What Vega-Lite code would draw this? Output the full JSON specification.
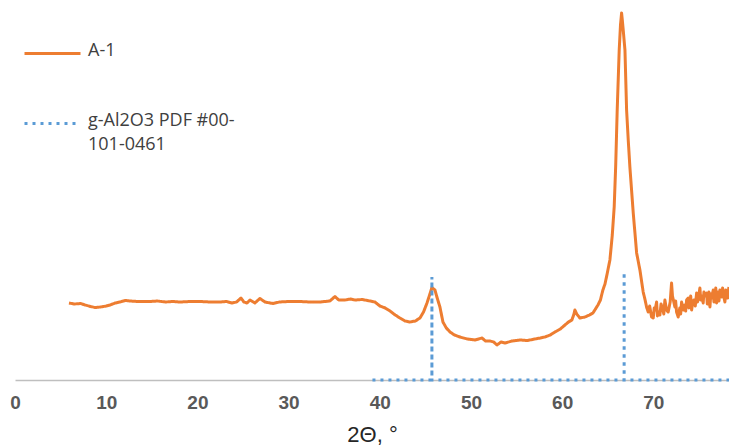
{
  "$schema": "https://vega.github.io/schema/vega-lite/v6.json",
  "width": 714,
  "height": 380,
  "autosize": {"type": "none"},
  "padding": {"left": 15, "top": 0, "right": 0, "bottom": 67},
  "background": "white",
  "config": {"view": {"stroke": null}},
  "datasets": {
    "xrd": [
      {"t": 5.92, "I": 77}, {"t": 6.5, "I": 76}, {"t": 7.2, "I": 76.5}, {"t": 7.68, "I": 75}, {"t": 8.3, "I": 73.5},
      {"t": 8.77, "I": 72.5}, {"t": 9.4, "I": 73}, {"t": 10.0, "I": 74}, {"t": 10.42, "I": 75}, {"t": 11.0, "I": 77},
      {"t": 11.51, "I": 78}, {"t": 12.1, "I": 79.5}, {"t": 12.61, "I": 79}, {"t": 13.5, "I": 78.5}, {"t": 14.8, "I": 78.5},
      {"t": 15.6, "I": 79}, {"t": 16.5, "I": 78}, {"t": 17.3, "I": 78.5}, {"t": 18.09, "I": 78}, {"t": 19.2, "I": 78.5},
      {"t": 20.29, "I": 78.5}, {"t": 21.4, "I": 78}, {"t": 22.48, "I": 78}, {"t": 23.2, "I": 78.5}, {"t": 23.79, "I": 77},
      {"t": 24.3, "I": 78}, {"t": 24.78, "I": 82}, {"t": 25.1, "I": 78}, {"t": 25.44, "I": 77}, {"t": 25.77, "I": 80},
      {"t": 26.3, "I": 77}, {"t": 26.86, "I": 81.5}, {"t": 27.41, "I": 78}, {"t": 28.29, "I": 76.5}, {"t": 29.0, "I": 78},
      {"t": 30.0, "I": 78.5}, {"t": 31.25, "I": 78.5}, {"t": 32.3, "I": 78}, {"t": 33.44, "I": 78}, {"t": 34.54, "I": 79},
      {"t": 35.09, "I": 83.5}, {"t": 35.5, "I": 80}, {"t": 36.18, "I": 80}, {"t": 36.8, "I": 81}, {"t": 37.28, "I": 80},
      {"t": 38.1, "I": 80.5}, {"t": 38.93, "I": 79}, {"t": 39.47, "I": 78}, {"t": 40.02, "I": 74}, {"t": 40.6, "I": 72},
      {"t": 41.12, "I": 69}, {"t": 41.7, "I": 65}, {"t": 42.21, "I": 62}, {"t": 42.76, "I": 59}, {"t": 43.31, "I": 58},
      {"t": 43.9, "I": 59}, {"t": 44.41, "I": 62}, {"t": 44.8, "I": 68}, {"t": 45.18, "I": 77}, {"t": 45.5, "I": 86},
      {"t": 45.72, "I": 92.5}, {"t": 46.05, "I": 90}, {"t": 46.3, "I": 82}, {"t": 46.6, "I": 73}, {"t": 46.93, "I": 58},
      {"t": 47.3, "I": 52}, {"t": 47.7, "I": 48}, {"t": 48.2, "I": 45}, {"t": 48.79, "I": 43}, {"t": 49.6, "I": 41},
      {"t": 50.44, "I": 40}, {"t": 51.21, "I": 42}, {"t": 51.6, "I": 39}, {"t": 52.08, "I": 39}, {"t": 52.5, "I": 38},
      {"t": 52.85, "I": 35}, {"t": 53.3, "I": 38}, {"t": 53.73, "I": 37}, {"t": 54.5, "I": 39}, {"t": 55.37, "I": 40},
      {"t": 56.2, "I": 39.5}, {"t": 57.02, "I": 41}, {"t": 57.6, "I": 42}, {"t": 58.11, "I": 43}, {"t": 58.7, "I": 45},
      {"t": 59.21, "I": 48}, {"t": 59.8, "I": 51}, {"t": 60.31, "I": 55}, {"t": 60.7, "I": 58}, {"t": 61.07, "I": 60},
      {"t": 61.3, "I": 66}, {"t": 61.4, "I": 70}, {"t": 61.6, "I": 66}, {"t": 61.95, "I": 62}, {"t": 62.5, "I": 63},
      {"t": 63.0, "I": 65}, {"t": 63.38, "I": 67}, {"t": 63.93, "I": 75}, {"t": 64.2, "I": 80}, {"t": 64.47, "I": 90},
      {"t": 64.7, "I": 96}, {"t": 64.91, "I": 105}, {"t": 65.24, "I": 120}, {"t": 65.5, "I": 145}, {"t": 65.71, "I": 173},
      {"t": 65.87, "I": 213}, {"t": 66.04, "I": 270}, {"t": 66.26, "I": 330}, {"t": 66.4, "I": 355}, {"t": 66.52, "I": 367},
      {"t": 66.6, "I": 360}, {"t": 66.7, "I": 350}, {"t": 66.89, "I": 330}, {"t": 67.07, "I": 270}, {"t": 67.25, "I": 240},
      {"t": 67.43, "I": 213}, {"t": 67.8, "I": 167}, {"t": 68.17, "I": 127}, {"t": 68.53, "I": 110}, {"t": 68.89, "I": 88},
      {"t": 69.1, "I": 80}, {"t": 69.26, "I": 73}, {"t": 69.44, "I": 68}, {"t": 69.6, "I": 74}, {"t": 69.81, "I": 63},
      {"t": 69.99, "I": 62}, {"t": 70.1, "I": 72}, {"t": 70.2, "I": 70}, {"t": 70.36, "I": 78}, {"t": 70.45, "I": 64}, {"t": 70.55, "I": 68}, {"t": 70.72, "I": 65},
      {"t": 70.85, "I": 76}, {"t": 71.0, "I": 72}, {"t": 71.15, "I": 66}, {"t": 71.27, "I": 80}, {"t": 71.45, "I": 70}, {"t": 71.63, "I": 68}, {"t": 71.85, "I": 78},
      {"t": 72.0, "I": 97}, {"t": 72.1, "I": 84}, {"t": 72.2, "I": 80}, {"t": 72.37, "I": 73}, {"t": 72.45, "I": 79}, {"t": 72.55, "I": 68}, {"t": 72.73, "I": 63},
      {"t": 72.9, "I": 72}, {"t": 73.0, "I": 66}, {"t": 73.1, "I": 78}, {"t": 73.2, "I": 74}, {"t": 73.3, "I": 70}, {"t": 73.46, "I": 75}, {"t": 73.55, "I": 69}, {"t": 73.65, "I": 80},
      {"t": 73.83, "I": 82}, {"t": 73.9, "I": 72}, {"t": 74.0, "I": 76}, {"t": 74.1, "I": 84}, {"t": 74.2, "I": 70}, {"t": 74.3, "I": 76}, {"t": 74.45, "I": 80}, {"t": 74.6, "I": 74}, {"t": 74.75, "I": 87},
      {"t": 74.85, "I": 78}, {"t": 74.95, "I": 82}, {"t": 75.11, "I": 92}, {"t": 75.2, "I": 80}, {"t": 75.3, "I": 84}, {"t": 75.47, "I": 77}, {"t": 75.55, "I": 88}, {"t": 75.65, "I": 84},
      {"t": 75.84, "I": 87}, {"t": 75.92, "I": 76}, {"t": 76.0, "I": 80}, {"t": 76.1, "I": 88}, {"t": 76.21, "I": 73}, {"t": 76.3, "I": 86}, {"t": 76.4, "I": 82}, {"t": 76.57, "I": 90},
      {"t": 76.65, "I": 78}, {"t": 76.75, "I": 84}, {"t": 76.85, "I": 92}, {"t": 76.94, "I": 77}, {"t": 77.02, "I": 88}, {"t": 77.1, "I": 85}, {"t": 77.2, "I": 79}, {"t": 77.3, "I": 90}, {"t": 77.4, "I": 86}, {"t": 77.5, "I": 83},
      {"t": 77.6, "I": 92}, {"t": 77.72, "I": 84}, {"t": 77.85, "I": 78}, {"t": 77.95, "I": 90}, {"t": 78.05, "I": 88}, {"t": 78.15, "I": 82}, {"t": 78.29, "I": 93}
    ],
    "ref": [
      {"i": 0, "t": 39.2, "I": 0}, {"i": 1, "t": 45.72, "I": 0}, {"i": 2, "t": 45.72, "I": 103}, {"i": 3, "t": 45.72, "I": 0},
      {"i": 4, "t": 66.8, "I": 0}, {"i": 5, "t": 66.8, "I": 108}, {"i": 6, "t": 66.8, "I": 0}, {"i": 7, "t": 78.3, "I": 0}
    ]
  },
  "layer": [
    {
      "data": {"name": "xrd"},
      "transform": [{"calculate": "'A-1'", "as": "series"}],
      "mark": {"type": "line", "strokeWidth": 3, "strokeJoin": "round"},
      "encoding": {
        "x": {"field": "t", "type": "quantitative"},
        "y": {"field": "I", "type": "quantitative"},
        "color": {"field": "series", "type": "nominal"},
        "strokeDash": {"field": "series", "type": "nominal"}
      }
    },
    {
      "data": {"name": "ref"},
      "transform": [{"calculate": "'g-Al2O3 PDF #00-101-0461'", "as": "series"}],
      "mark": {"type": "line", "strokeWidth": 3},
      "encoding": {
        "x": {"field": "t", "type": "quantitative"},
        "y": {"field": "I", "type": "quantitative"},
        "order": {"field": "i", "type": "quantitative"},
        "color": {"field": "series", "type": "nominal"},
        "strokeDash": {"field": "series", "type": "nominal"}
      }
    }
  ],
  "encoding": {
    "x": {
      "field": "t", "type": "quantitative",
      "scale": {"domain": [0, 78.3], "nice": false, "zero": false},
      "axis": {
        "title": "2Θ, °", "values": [0, 10, 20, 30, 40, 50, 60, 70],
        "grid": false, "ticks": false, "domainColor": "#bfbfbf", "domainWidth": 1.5,
        "labelFont": "Liberation Sans", "labelFontWeight": "bold", "labelFontSize": 19, "labelColor": "#595959",
        "labelPadding": 13, "labelFlush": false,
        "titleFont": "Liberation Sans", "titleFontWeight": "normal", "titleFontSize": 22, "titleColor": "#262626", "titlePadding": 12
      }
    },
    "y": {
      "field": "I", "type": "quantitative",
      "scale": {"domain": [0, 380], "nice": false},
      "axis": null
    },
    "color": {
      "field": "series", "type": "nominal",
      "scale": {"domain": ["A-1", "g-Al2O3 PDF #00-101-0461"], "range": ["#ED7D31", "#5B9BD5"]},
      "legend": {
        "title": null, "orient": "none", "legendX": 8, "legendY": 24,
        "symbolType": "stroke", "symbolSize": 3136, "symbolStrokeWidth": 3,
        "labelFont": "Open Sans", "labelFontSize": 18, "labelColor": "#404040", "labelOffset": 6,
        "labelBaseline": "top", "labelLimit": 400, "rowPadding": 34,
        "labelExpr": "datum.label == 'A-1' ? 'A-1' : ['g-Al2O3 PDF #00-', '101-0461']",
        "encode": {"labels": {"update": {"dy": {"value": -12}, "lineHeight": {"value": 24}}}}
      }
    },
    "strokeDash": {
      "field": "series", "type": "nominal",
      "scale": {"domain": ["A-1", "g-Al2O3 PDF #00-101-0461"], "range": [[1, 0], [3, 5]]}
    }
  }
}
